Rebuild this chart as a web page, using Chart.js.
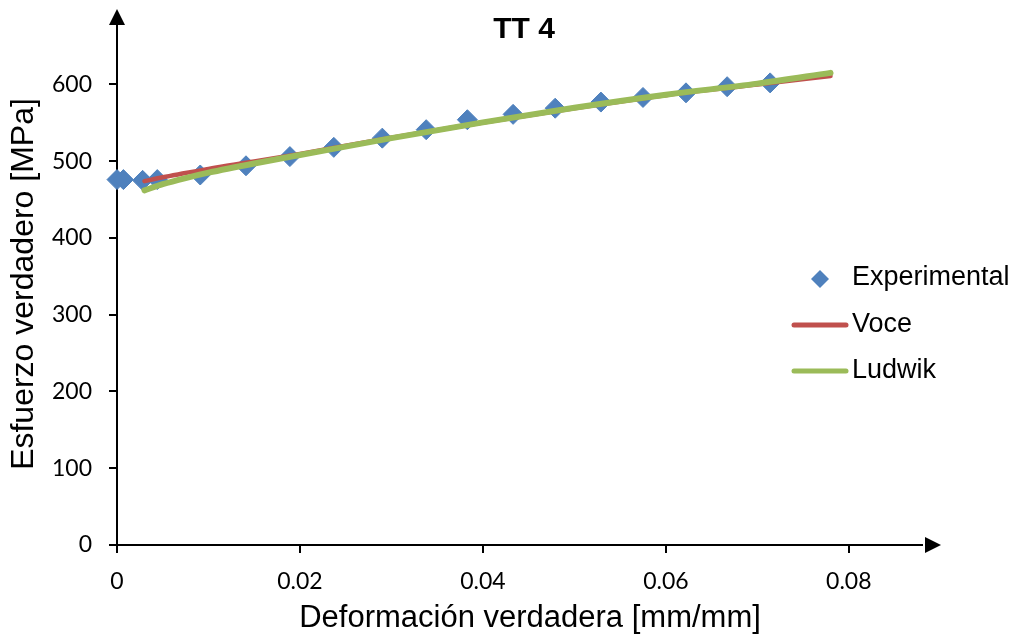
<!DOCTYPE html>
<html>
<head>
<meta charset="utf-8">
<title>TT 4</title>
<script src="https://cdn.jsdelivr.net/npm/chart.js@4.4.1/dist/chart.umd.min.js"></script>
<style>
  html, body { margin: 0; padding: 0; background: #fff; }
  #wrap { width: 1019px; height: 643px; }
</style>
</head>
<body>
<div id="wrap"><canvas id="chart" width="1019" height="643"></canvas></div>
<script>
// Ensayo de traccion TT 4: puntos experimentales y ajustes de Voce y Ludwik
const strainExp = [0.0000, 0.0007, 0.0028, 0.0044, 0.0091, 0.0141, 0.0189, 0.0237, 0.0290,
                   0.0338, 0.0383, 0.0433, 0.0479, 0.0529, 0.0575, 0.0622, 0.0667, 0.0714];
const stressExp = [476, 476, 475, 476, 482, 494, 506, 518, 530,
                   541, 554, 561, 569, 577, 583, 589, 597, 602];

const strainFit = [0.003, 0.005, 0.0075, 0.01, 0.015, 0.02, 0.03, 0.04, 0.05, 0.06, 0.07, 0.078];
const stressVoce = [474, 479, 484.5, 490, 499.5, 509.5, 530.5, 550.5, 569, 586, 600, 611];
const stressLudwik = [462, 470, 478, 485, 497, 508, 530, 550.5, 569.5, 586.5, 601, 615];

const seriesNames = ['Experimental', 'Voce', 'Ludwik'];
const chartTitle = 'TT 4';
const xTitle = 'Deformación verdadera [mm/mm]';
const yTitle = 'Esfuerzo verdadero [MPa]';

function toXY(xs, ys) {
    return xs.map((x, i) => ({ x: x, y: ys[i] }));
}

// flechas en los ejes, titulo y leyenda
const decorations = {
    id: 'decorations',
    afterDraw(chart) {
        const ctx = chart.ctx;
        const area = chart.chartArea;
        ctx.save();
        ctx.fillStyle = '#000';

        // flecha eje Y
        ctx.beginPath();
        ctx.moveTo(area.left, area.top - 14);
        ctx.lineTo(area.left - 8, area.top + 2);
        ctx.lineTo(area.left + 8, area.top + 2);
        ctx.closePath();
        ctx.fill();

        // flecha eje X
        ctx.beginPath();
        ctx.moveTo(area.right + 19, area.bottom);
        ctx.lineTo(area.right + 3, area.bottom - 8);
        ctx.lineTo(area.right + 3, area.bottom + 8);
        ctx.closePath();
        ctx.fill();

        // titulo
        ctx.textBaseline = 'middle';
        ctx.textAlign = 'center';
        ctx.font = 'bold 30px "Liberation Sans", Arial, sans-serif';
        ctx.fillText(chartTitle, 524, 30);

        // titulo eje X
        ctx.font = '31px "Liberation Sans", Arial, sans-serif';
        ctx.fillText(xTitle, 530, 618);

        // leyenda
        const ds = chart.data.datasets;
        ctx.textAlign = 'left';
        ctx.font = '27px "Liberation Sans", Arial, sans-serif';

        ctx.fillStyle = ds[0].backgroundColor;
        ctx.beginPath();
        ctx.moveTo(820 - 9, 279);
        ctx.lineTo(820, 279 - 9);
        ctx.lineTo(820 + 9, 279);
        ctx.lineTo(820, 279 + 9);
        ctx.closePath();
        ctx.fill();
        ctx.fillStyle = '#000';
        ctx.fillText(ds[0].label, 852, 278);

        const rows = [[ds[1], 325], [ds[2], 371]];
        rows.forEach(([d, y]) => {
            ctx.strokeStyle = d.borderColor;
            ctx.lineWidth = 5;
            ctx.lineCap = 'round';
            ctx.beginPath();
            ctx.moveTo(794, y);
            ctx.lineTo(846, y);
            ctx.stroke();
            ctx.fillStyle = '#000';
            ctx.fillText(d.label, 852, y);
        });
        ctx.restore();
    }
};

const ctx = document.getElementById('chart').getContext('2d');
new Chart(ctx, {
    type: 'scatter',
    data: {
        datasets: [
            {
                label: seriesNames[0],
                data: toXY(strainExp, stressExp),
                showLine: false,
                pointStyle: 'rectRot',
                pointRadius: 10,
                pointHoverRadius: 10,
                backgroundColor: '#4F81BD',
                borderColor: '#4F81BD',
                borderWidth: 1,
                clip: false,
                order: 2
            },
            {
                label: seriesNames[1],
                data: toXY(strainFit, stressVoce),
                showLine: true,
                pointRadius: 0,
                borderColor: '#C0504D',
                backgroundColor: '#C0504D',
                borderWidth: 4.5,
                borderCapStyle: 'round',
                cubicInterpolationMode: 'monotone',
                order: 1
            },
            {
                label: seriesNames[2],
                data: toXY(strainFit, stressLudwik),
                showLine: true,
                pointRadius: 0,
                borderColor: '#9BBB59',
                backgroundColor: '#9BBB59',
                borderWidth: 6,
                borderCapStyle: 'round',
                cubicInterpolationMode: 'monotone',
                order: 0
            }
        ]
    },
    options: {
        responsive: false,
        animation: false,
        events: [],
        layout: { padding: { top: 23, right: 97, bottom: 0, left: 0 } },
        plugins: {
            legend: { display: false },
            tooltip: { enabled: false }
        },
        scales: {
            x: {
                type: 'linear',
                min: 0,
                max: 0.088,
                afterFit: scale => {
                    scale.height = 98;
                    scale.paddingLeft = 0;
                    scale.paddingRight = 0;
                },
                afterBuildTicks: scale => {
                    scale.ticks = scale.ticks.filter(t => t.value <= 0.0801);
                },
                ticks: {
                    stepSize: 0.02,
                    includeBounds: false,
                    padding: 15,
                    color: '#000',
                    font: { family: 'Lato, "Open Sans", sans-serif', size: 23 },
                    callback: v => v === 0 ? '0' : v.toFixed(2)
                },
                grid: {
                    drawOnChartArea: false,
                    drawTicks: true,
                    tickLength: 8,
                    color: '#000',
                    lineWidth: 2
                },
                border: { display: true, color: '#000', width: 2 }
            },
            y: {
                type: 'linear',
                min: 0,
                max: 680,
                afterFit: scale => {
                    scale.width = 117;
                    scale.paddingTop = 0;
                    scale.paddingBottom = 0;
                },
                afterBuildTicks: scale => {
                    scale.ticks = scale.ticks.filter(t => t.value % 100 === 0);
                },
                ticks: {
                    stepSize: 100,
                    includeBounds: false,
                    padding: 17,
                    color: '#000',
                    font: { family: 'Lato, "Open Sans", sans-serif', size: 23 }
                },
                grid: {
                    drawOnChartArea: false,
                    drawTicks: true,
                    tickLength: 8,
                    color: '#000',
                    lineWidth: 2
                },
                border: { display: true, color: '#000', width: 2 },
                title: {
                    display: true,
                    text: yTitle,
                    color: '#000',
                    font: { family: '"Liberation Sans", Arial, sans-serif', size: 32, lineHeight: 1.2 },
                    padding: { top: 5, bottom: 0 }
                }
            }
        }
    },
    plugins: [decorations]
});
</script>
</body>
</html>
